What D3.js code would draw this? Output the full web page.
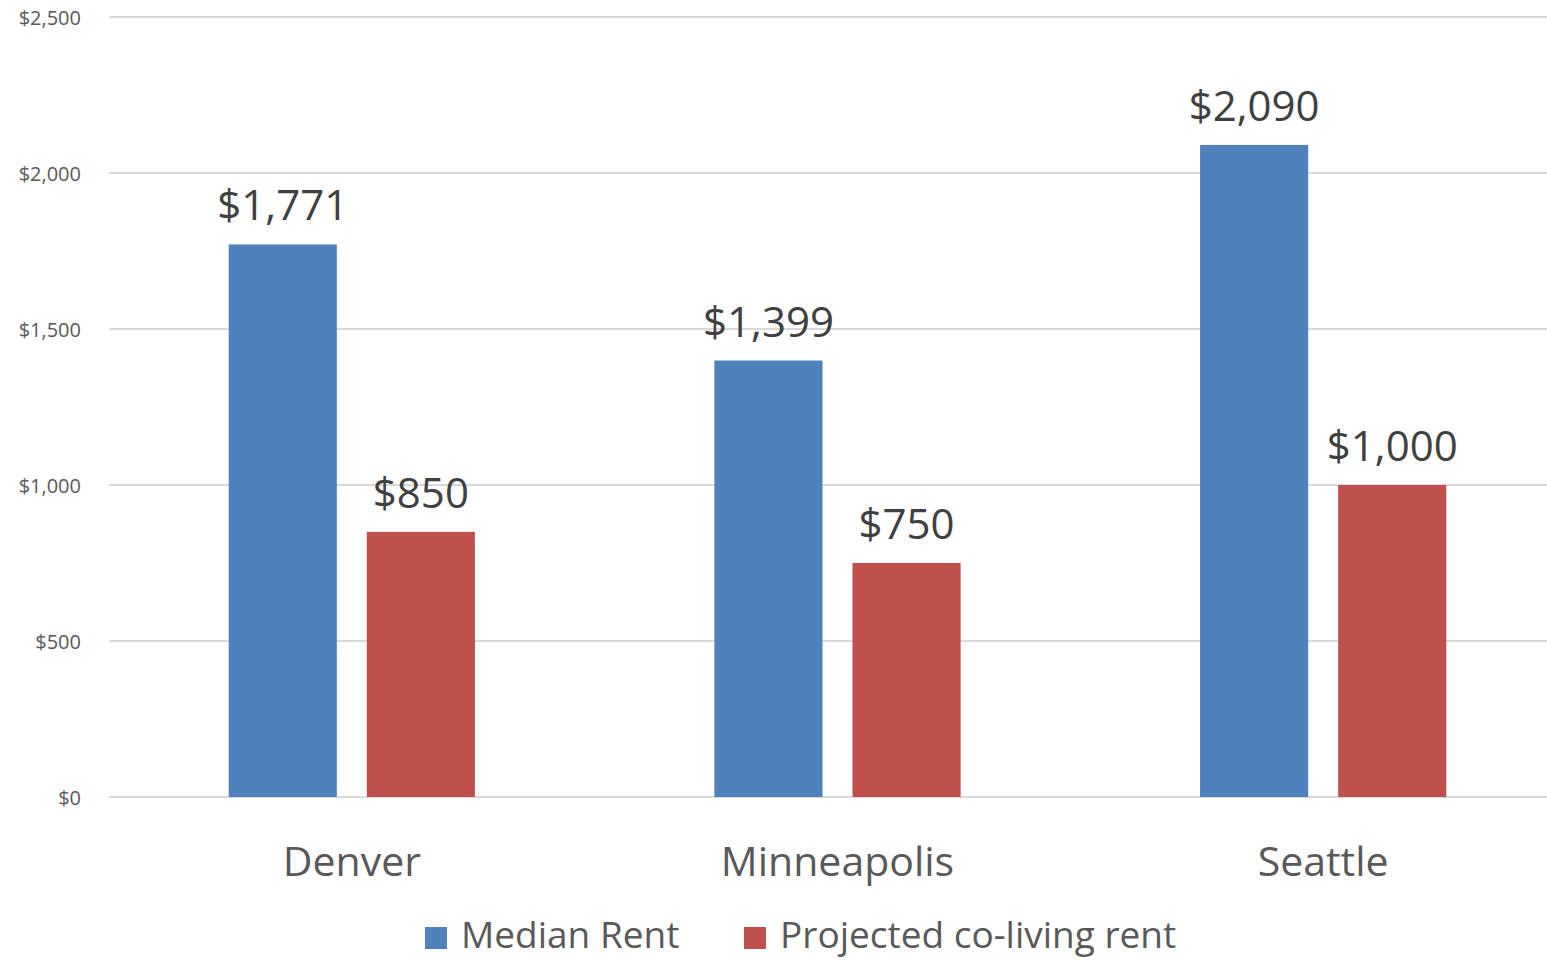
<!DOCTYPE html>
<html>
<head>
<meta charset="utf-8">
<script src="https://cdn.jsdelivr.net/npm/d3@7"></script>
<style>
  body { margin: 0; background: #fff; }
  text { font-family: "Open Sans", sans-serif; }
</style>
</head>
<body>
<script>
var cities = ["Denver", "Minneapolis", "Seattle"];
var seriesNames = ["Median Rent", "Projected co-living rent"];
var medianRent = [1771, 1399, 2090];
var coLivingRent = [850, 750, 1000];
var yTicks = [0, 500, 1000, 1500, 2000, 2500];
var colors = ["#4F81BD", "#C0504D"];

var w = 1547, h = 960;
var svg = d3.select("body").append("svg")
    .attr("width", w)
    .attr("height", h);

var y = d3.scaleLinear().domain([0, 2500]).range([797, 17]);
var x0 = d3.scaleBand().domain(cities).range([109, 1566])
    .paddingInner(0.493).paddingOuter(0.2465);
var x1 = d3.scaleBand().domain(seriesNames).range([0, x0.bandwidth()])
    .paddingInner(0.217);

var fmt = function (v) { return "$" + d3.format(",")(v); };

// gridlines
svg.append("g").selectAll("line")
    .data(yTicks)
    .enter().append("line")
    .attr("x1", 109).attr("x2", w)
    .attr("y1", function (d) { return y(d); })
    .attr("y2", function (d) { return y(d); })
    .attr("stroke", "#D9D9D9")
    .attr("stroke-width", 2);

// y axis labels
svg.append("g").selectAll("text")
    .data(yTicks)
    .enter().append("text")
    .attr("x", 81)
    .attr("y", function (d) { return y(d) + 8; })
    .attr("text-anchor", "end")
    .attr("fill", "#595959")
    .style("font-size", "20px")
    .text(fmt);

var rows = cities.map(function (c, i) {
    return [
        { city: c, key: seriesNames[0], value: medianRent[i], color: colors[0] },
        { city: c, key: seriesNames[1], value: coLivingRent[i], color: colors[1] }
    ];
});

var groups = svg.selectAll("g.city")
    .data(rows)
    .enter().append("g")
    .attr("class", "city")
    .attr("transform", function (d) { return "translate(" + x0(d[0].city) + ",0)"; });

groups.selectAll("rect")
    .data(function (d) { return d; })
    .enter().append("rect")
    .attr("x", function (d) { return x1(d.key); })
    .attr("y", function (d) { return y(d.value); })
    .attr("width", x1.bandwidth())
    .attr("height", function (d) { return y(0) - y(d.value); })
    .attr("fill", function (d) { return d.color; });

groups.selectAll("text.val")
    .data(function (d) { return d; })
    .enter().append("text")
    .attr("class", "val")
    .attr("x", function (d) { return x1(d.key) + x1.bandwidth() / 2; })
    .attr("y", function (d) { return y(d.value) - 24; })
    .attr("text-anchor", "middle")
    .attr("fill", "#404040")
    .style("font-size", "42px")
    .text(function (d) { return fmt(d.value); });

// category labels
svg.append("g").selectAll("text")
    .data(cities)
    .enter().append("text")
    .attr("x", function (d) { return x0(d) + x0.bandwidth() / 2; })
    .attr("y", 876)
    .attr("text-anchor", "middle")
    .attr("fill", "#595959")
    .style("font-size", "41px")
    .text(function (d) { return d; });

// legend
var legendX = [425, 744];
var legend = svg.append("g").selectAll("g")
    .data(seriesNames)
    .enter().append("g")
    .attr("transform", function (d, i) { return "translate(" + legendX[i] + ",927)"; });
legend.append("rect")
    .attr("width", 22).attr("height", 22)
    .attr("fill", function (d, i) { return colors[i]; });
legend.append("text")
    .attr("x", 36).attr("y", 21)
    .attr("fill", "#595959")
    .style("font-size", "37px")
    .text(function (d) { return d; });
</script>
</body>
</html>
